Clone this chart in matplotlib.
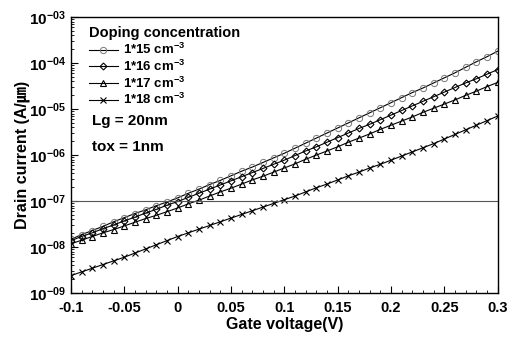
import numpy as np
import matplotlib
matplotlib.use("Agg")
import matplotlib.pyplot as plt
from matplotlib.ticker import FixedLocator, LogLocator, NullFormatter, MultipleLocator

plt.rcParams['font.family'] = ['Liberation Sans', 'Noto Sans CJK KR', 'DejaVu Sans']
plt.rcParams['font.weight'] = 'bold'
plt.rcParams['mathtext.fontset'] = 'custom'
plt.rcParams['mathtext.rm'] = 'Liberation Sans:bold'
plt.rcParams['mathtext.bf'] = 'Liberation Sans:bold'
plt.rcParams['mathtext.default'] = 'rm'

# gate voltage (V), one point every 10 mV
vg = [-0.10, -0.09, -0.08, -0.07, -0.06, -0.05, -0.04, -0.03, -0.02, -0.01,
      0.00, 0.01, 0.02, 0.03, 0.04, 0.05, 0.06, 0.07, 0.08, 0.09,
      0.10, 0.11, 0.12, 0.13, 0.14, 0.15, 0.16, 0.17, 0.18, 0.19,
      0.20, 0.21, 0.22, 0.23, 0.24, 0.25, 0.26, 0.27, 0.28, 0.29, 0.30]

# log10 of drain current (A/um)
log_id_15 = [-7.83, -7.73, -7.64, -7.55, -7.45, -7.36, -7.27, -7.19, -7.10, -7.02,
             -6.93, -6.83, -6.74, -6.64, -6.55, -6.45, -6.35, -6.26, -6.16, -6.06,
             -5.96, -5.85, -5.74, -5.63, -5.52, -5.41, -5.30, -5.19, -5.08, -4.97,
             -4.86, -4.75, -4.64, -4.54, -4.43, -4.32, -4.21, -4.09, -3.97, -3.86, -3.74]
log_id_16 = [-7.86, -7.77, -7.69, -7.60, -7.52, -7.43, -7.35, -7.26, -7.18, -7.09,
             -7.01, -6.92, -6.83, -6.74, -6.65, -6.56, -6.47, -6.38, -6.29, -6.20,
             -6.11, -6.01, -5.91, -5.82, -5.72, -5.62, -5.52, -5.42, -5.33, -5.23,
             -5.13, -5.03, -4.93, -4.83, -4.73, -4.63, -4.53, -4.43, -4.34, -4.24, -4.14]
log_id_17 = [-7.93, -7.85, -7.77, -7.69, -7.62, -7.54, -7.46, -7.38, -7.31, -7.23,
             -7.15, -7.06, -6.98, -6.89, -6.80, -6.72, -6.63, -6.54, -6.46, -6.37,
             -6.28, -6.19, -6.09, -6.00, -5.91, -5.82, -5.72, -5.63, -5.54, -5.44,
             -5.35, -5.26, -5.17, -5.07, -4.98, -4.89, -4.80, -4.70, -4.61, -4.51, -4.42]
log_id_18 = [-8.62, -8.54, -8.46, -8.38, -8.30, -8.22, -8.13, -8.04, -7.95, -7.86,
             -7.77, -7.69, -7.61, -7.53, -7.45, -7.37, -7.29, -7.21, -7.13, -7.05,
             -6.97, -6.89, -6.80, -6.71, -6.63, -6.54, -6.45, -6.37, -6.28, -6.20,
             -6.11, -6.02, -5.93, -5.84, -5.75, -5.65, -5.55, -5.45, -5.35, -5.25, -5.15]

labels = ['1*15', '1*16', '1*17', '1*18']
xticks = [-0.1, -0.05, 0, 0.05, 0.1, 0.15, 0.2, 0.25, 0.3]
xtick_labels = ['-0.1', '-0.05', '0', '0.05', '0.1', '0.15', '0.2', '0.25', '0.3']
ydecades = [-9, -8, -7, -6, -5, -4, -3]

fig = plt.figure(figsize=(5.10, 3.42), dpi=100)
ax = fig.add_axes([0.139, 0.143, 0.837, 0.807])

styles = [
    dict(marker='o', mfc='none', mec='#777777', ms=4.5, mew=0.7),
    dict(marker='D', mfc='none', mec='black', ms=3.5, mew=0.8),
    dict(marker='^', mfc='none', mec='black', ms=4.5, mew=0.8),
    dict(marker='x', mfc='none', mec='black', ms=4.5, mew=0.8),
]
for logs, lab, st in zip([log_id_15, log_id_16, log_id_17, log_id_18], labels, styles):
    ax.plot(vg, 10.0 ** np.array(logs), color='black', lw=0.8,
            label=lab + r' cm$^{-3}$', **st)

ax.axhline(1e-7, color='#555555', lw=0.8, clip_on=False)

ax.set_yscale('log')
ax.set_xlim(-0.1, 0.3)
ax.set_ylim(1e-9, 1e-3)

ax.set_xticks(xticks)
ax.set_xticklabels(xtick_labels, fontsize=10.5, fontweight='bold')
ax.xaxis.set_minor_locator(MultipleLocator(0.01))
ax.yaxis.set_major_locator(FixedLocator([10.0 ** d for d in ydecades]))
ax.set_yticklabels([r'$10^{-0%d}$' % (-d) for d in ydecades], fontsize=11)
ax.yaxis.set_minor_locator(LogLocator(base=10, subs=np.arange(2, 10)))
ax.yaxis.set_minor_formatter(NullFormatter())

ax.tick_params(which='both', direction='in', top=False, right=False)
ax.tick_params(which='major', length=5, width=0.8)
ax.tick_params(which='minor', length=2.5, width=0.6)
ax.tick_params(axis='x', pad=6)

for sp in ax.spines.values():
    sp.set_linewidth(1.0)

ax.set_xlabel('Gate voltage(V)', fontsize=11.5, fontweight='bold', labelpad=1)
ax.set_ylabel('Drain current (A/\u339b)', fontsize=11.5, fontweight='bold', labelpad=-1)

leg = ax.legend(loc='upper left', bbox_to_anchor=(0.02, 1.0), frameon=False,
                title='Doping concentration', fontsize=9.5, handlelength=2.2,
                handletextpad=0.4, labelspacing=0.12, borderaxespad=0.3)
leg.get_title().set_fontweight('bold')
leg.get_title().set_fontsize(10.5)
leg._legend_box.align = 'left'

ax.text(0.05, 0.61, 'Lg = 20nm', transform=ax.transAxes, fontsize=11, fontweight='bold')
ax.text(0.05, 0.515, 'tox = 1nm', transform=ax.transAxes, fontsize=11, fontweight='bold')

fig.savefig('out.png', dpi=100)
